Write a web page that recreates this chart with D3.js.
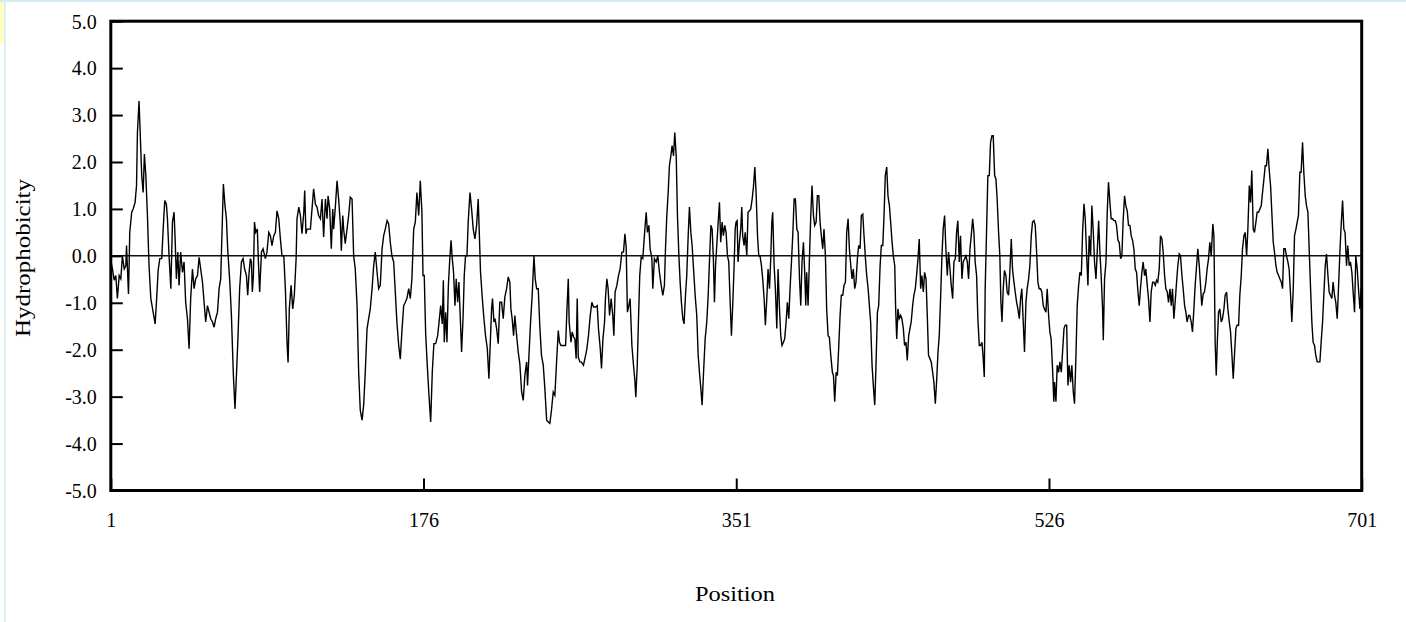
<!DOCTYPE html>
<html>
<head>
<meta charset="utf-8">
<script src="https://cdn.jsdelivr.net/npm/d3@7"></script>
<style>
  html, body { margin: 0; padding: 0; background: #fff; }
  svg { display: block; }
  text { font-family: "Liberation Serif", "Times New Roman", serif; fill: #000; }
</style>
</head>
<body>
<svg id="chart" width="1406" height="622"></svg>
<script>
// ---- data ----
const yTickValues = [-5, -4, -3, -2, -1, 0, 1, 2, 3, 4, 5];
const xTickValues = [1, 176, 351, 526, 701];
const xLabel = "Position";
const yLabel = "Hydrophobicity";

const positions = [
  1,1.9,2.9,3.8,4.7,5.7,6.6,7.5,8.5,9.4, 9.8,10.9,11.3,11.6,12.7,13.5,14.6,15.4,15.9,16.8,
  17.4,18.3,19.1,19.8,20.6,21.5,22.4,23.4,24.7,25.8, 26.5,27.5,28.4,29.5,30.3,31.2,32.1,32.7,33.6,34.6,
  35.5,36.4,37.0,37.7,38.5,39.2,40.1,41.1,42.0,42.9, 43.9,44.8,45.7,46.7,47.6,48.5,49.5,50.4,51.3,52.3,
  53.2,54.1,55.1,56.0,56.9,57.9,58.8,59.7,60.7,61.6, 62.5,63.5,64.0,64.9,65.7,66.4,67.6,68.5,69.6,70.5,
  71.3,72.2,73.1,74.1,75.0,75.9,76.9,77.6,78.4,79.1, 79.7,80.2,80.8,81.4,82.1,83.0,83.6,84.3,85.3,86.2,
  87.5,88.4,89.4,90.3,91.2,92.2,93.1,94.0,95.0,95.9, 96.8,97.8,98.7,99.6,100.2,100.9,101.9,102.8,103.7,104.7,
  105.2,106.2,107.1,108.0,109.0,109.5,110.2,110.8,111.7,112.7, 113.6,114.5,115.5,116.4,117.3,118.3,119.2,120.1,121.1,122.0,
  122.6,123.5,124.4,125.2,125.7,126.7,127.6,128.5,129.5,130.0, 130.8,131.3,132.2,133.2,134.1,135.0,136.0,136.9,137.8,138.8,
  139.7,140.6,141.6,142.5,143.4,144.4,145.3,146.2,147.2,148.1, 149.0,150.0,150.9,151.8,152.8,153.7,154.6,155.6,156.5,157.4,
  158.3,159.3,160.2,161.1,162.1,163.0,164.0,164.9,165.8,166.7, 167.7,168.6,169.5,170.5,171.4,172.3,173.3,174.2,175.1,175.7,
  176.4,177.2,178.1,179.0,180.0,180.9,181.8,182.8,183.9,184.6, 185.6,186.5,187.1,187.6,188.4,189.1,189.9,190.6,191.4,192.1,
  192.8,193.6,194.3,195.1,195.8,196.6,197.3,198.1,198.8,199.5, 200.3,201.0,202.0,202.9,203.8,204.8,205.7,206.6,207.2,207.9,
  208.9,209.8,210.7,211.7,212.6,213.3,214.1,214.6,215.4,216.0, 216.9,217.8,218.7,219.7,220.6,221.5,222.5,223.4,224.3,224.9,
  225.6,226.4,227.1,228.1,229.0,229.9,230.9,231.8,232.7,233.7, 234.2,235.0,235.9,236.8,237.8,238.5,239.3,240.2,241.1,242.0,
  243.0,243.9,244.9,245.8,246.7,247.6,248.6,249.5,250.4,251.4, 252.1,252.9,254.2,255.5,256.2,257.0,257.5,258.5,259.2,260.0,
  260.7,261.4,262.0,262.6,263.5,
  264.2,265.5,266.7,267.4,268.3,269.3,270.2,271.1,272.2,273.2, 273.9,274.9,275.6,276.4,277.3,277.8,278.6,279.3,280.1,281.0,
  281.9,282.5,283.2,284.2,285.1,286.0,287.0,287.9,288.7,289.4, 290.1,290.9,291.6,292.6,293.5,294.2,294.8,295.6,296.3,297.0,
  297.8,298.7,299.6,300.6,301.3,302.1,302.8,303.8,304.3,305.2, 306.2,307.1,308.0,309.0,309.9,310.8,311.4,312.1,312.9,313.6,
  314.4,315.1,315.9,316.6,317.4,318.1,318.9,319.6,320.3,321.1, 321.8,322.6,323.3,324.1,324.8,325.6,326.3,327.1,328.0,328.9,
  329.7,330.4,331.2,331.9,332.7,333.6,334.5,335.3,336.0,336.8, 337.5,338.2,338.8,339.4,340.1,340.9,341.6,342.3,343.1,343.8,
  344.6,345.3,346.1,346.8,347.6,348.3,349.1,349.8,350.4,350.9, 351.5,352.0,
  352.8,353.5,354.1,354.6,355.4,356.0,356.9,357.6,358.4,359.1, 359.9,360.6,361.4,362.1,362.9,363.6,364.3,365.1,365.8,366.6,
  367.3,368.1,368.8,369.6,370.3,370.9,371.4,372.2,372.9,373.7, 374.4,375.2,375.9,376.6,377.4,378.1,378.9,379.6,380.4,381.1,
  381.9,382.6,383.4,384.1,384.9,385.6,386.4,387.1,387.8,388.6, 389.3,389.9,390.4,391.2,391.9,392.7,393.4,394.2,394.9,395.7,
  396.4,397.2,397.9,398.6,399.4,400.1,400.9,401.6,402.4,403.1, 403.9,404.8,405.4,406.1,406.9,407.6,408.3,409.1,409.8,410.6,
  411.3,412.1,412.8,413.6,414.3,415.1,415.8,416.5,417.3,418.0, 418.8,419.5,420.3,421.0,421.8,422.5,423.3,424.0,424.8,425.5,
  426.2,427.0,427.7,428.5,429.2,430.0,430.7,431.5,432.2,433.0, 433.7,434.4,435.2,435.9,436.7,437.4,438.2,438.9,439.7,440.2,
  440.8,
  441.5,442.2,443.0,443.7,444.5,445.2,446.0,446.7,447.5,448.2, 448.9,449.7,450.4,451.2,451.9,452.7,453.4,454.2,454.9,455.7,
  456.4,457.2,457.9,458.6,459.4,460.1,460.9,461.6,462.4,463.1, 463.9,464.6,465.4,466.1,466.8,467.6,468.3,469.1,469.8,470.6,
  471.3,472.1,472.8,473.6,474.3,475.0,475.8,476.5,477.3,478.0, 478.8,479.5,480.3,481.0,481.8,482.5,483.3,484.0,484.7,485.5,
  486.2,487.0,487.7,488.5,489.2,489.8,490.3,491.1,491.8,492.6, 493.3,494.1,494.8,495.6,496.3,497.0,497.8,498.5,499.1,499.7,
  500.4,501.1,501.9,502.6,503.4,504.1,504.9,505.6,506.4,507.1, 507.9,508.6,509.4,510.1,510.8,511.6,512.3,513.1,513.8,514.6,
  515.3,516.1,516.8,517.6,518.3,519.0,519.8,520.5,521.3,522.0, 522.8,523.5,524.3,525.0,525.8,526.5,527.2,528.0,528.7,
  529.1,529.9,530.6,531.4,532.1,532.9,533.6,534.4,535.1,535.9, 536.6,537.3,538.1,538.8,539.6,540.3,541.1,541.8,542.6,543.3,
  544.1,544.8,545.6,546.3,547.0,547.8,548.5,549.3,550.0,550.8, 551.5,552.3,553.0,553.8,554.5,555.2,556.0,556.4,557.1,557.9,
  558.6,559.3,560.1,560.8,561.6,562.3,563.1,563.8,564.6,565.3, 566.1,566.8,567.5,568.3,569.0,569.8,570.5,571.3,572.0,572.8,
  573.5,574.3,575.0,575.8,576.5,577.2,578.0,578.7,579.5,580.2, 581.0,581.7,582.5,583.2,584.0,584.7,585.5,586.2,586.9,587.7,
  588.4,589.2,589.9,590.7,591.4,592.2,592.9,593.7,594.4,595.1, 595.9,596.6,597.4,598.1,598.9,599.6,600.4,601.1,601.9,602.6,
  603.3,604.1,604.8,605.6,606.3,607.1,607.8,608.6,609.3,610.1, 610.8,611.5,612.3,613.0,613.8,614.5,615.3,616.0,616.8,
  617.7,618.3,619.0,619.6,620.2,620.9,621.6,622.4,623.1,623.9, 624.6,625.4,626.1,626.9,627.6,628.4,629.1,629.9,630.6,631.3,
  632.1,632.8,633.6,634.3,635.1,635.8,636.6,637.3,638.1,638.8, 639.5,640.3,641.0,641.8,642.5,643.3,644.0,644.8,645.5,646.3,
  647.0,647.7,648.5,649.2,650.0,650.7,651.5,652.2,653.0,653.7, 654.5,655.2,656.0,656.7,657.4,658.2,658.9,659.7,660.4,661.2,
  661.9,662.7,663.4,664.2,664.9,665.6,666.4,667.1,667.9,668.6, 669.4,670.1,670.9,671.6,672.4,673.1,673.8,674.6,675.3,676.1,
  676.8,677.6,678.3,679.1,679.8,680.6,681.3,682.1,682.8,683.5, 684.3,685.0,685.8,686.5,687.3,688.0,688.8,689.5,690.3,691.0,
  691.7,692.5,693.2,694.0,694.7,695.5,696.2,697.0,697.7,698.5, 699.2,700.0,700.7,701
];

const hydrophobicity = [
  -0.1,-0.28,-0.52,-0.42,-0.91,-0.42,-0.49,0,-0.28,-0.21, 0.22,-0.81,-0.13,0.5,0.93,1.0,1.14,1.5,2.63,3.3,
  2.67,1.71,1.35,2.17,1.71,0.86,-0.21,-0.91,-1.2,-1.45, -1.02,-0.31,-0.06,-0.06,0.57,1.18,1.1,0.79,0,-0.7,
  0.72,0.93,0.36,-0.49,0.08,-0.63,0.08,-0.35,-0.13,-0.99, -1.34,-1.98,-0.91,-0.28,-0.7,-0.49,-0.42,-0.03,-0.28,-0.56,
  -0.99,-1.41,-1.06,-1.2,-1.34,-1.41,-1.52,-1.34,-1.2,-0.7, -0.49,0.86,1.53,1.07,0.79,0.15,-0.56,-1.27,-2.55,-3.26,
  -2.55,-1.7,-0.7,-0.13,-0.06,-0.28,-0.42,-0.84,-0.35,-0.06, -0.13,-0.77,-0.42,0.72,0.5,0.57,-0.13,-0.77,0.08,0.15,
  -0.06,0.08,0.5,0.43,0.22,0.43,0.5,0.96,0.79,0.36, 0,0,-0.7,-1.84,-2.27,-1.13,-0.63,-1.13,-0.84,-0.06,
  0.79,1.04,0.86,0.47,0.93,1.39,0.47,0.57,0.57,0.57, 1.0,1.43,1.1,1.04,0.86,0.79,1.21,0.4,1.21,0.79,
  1.28,1.0,0.15,1.0,0.57,1.07,1.6,1.21,0.65,0.11, 0.86,0.57,0.26,0.57,0.86,1.25,1.21,0,-0.28,-1.06,
  -2.48,-3.29,-3.5,-3.18,-2.48,-1.55,-1.34,-1.13,-0.7,-0.21, 0.08,-0.35,-0.7,-0.63,0.15,0.43,0.57,0.75,0.68,0.29,
  0,-0.13,-0.77,-1.41,-1.91,-2.2,-1.55,-1.06,-0.99,-0.91, -0.7,-0.91,-0.49,0.57,0.72,1.35,0.86,1.6,0.93,-0.42,
  -0.42,-1.66,-2.33,-2.94,-3.54,-2.48,-1.87,-1.87,-1.7,-1.45, -1.06,-1.45,-0.52,-1.84,-1.2,-1.84,-0.63,-0.13,0.33,-0.06,
  -0.35,-1.06,-0.49,-0.99,-0.56,-1.34,-2.05,-1.34,-0.42,0, 0,0.72,1.35,1.0,0.57,0.36,0.65,1.21,0.5,-0.35,
  -0.91,-1.34,-1.7,-1.98,-2.62,-1.91,-1.13,-0.91,-1.41,-1.34, -1.55,-1.87,-0.99,-0.99,-1.34,-0.88,-0.7,-0.45,-0.56,-1.13,
  -1.34,-1.7,-1.27,-1.7,-2.05,-2.3,-2.9,-3.08,-2.55,-2.26, -2.76,-2.12,-1.41,-0.84,0,-0.49,-0.7,-0.7,-1.52,-2.12,
  -2.33,-2.83,-3.5,-3.54,-3.57,-3.29,-2.9,-2.97,-2.3,-1.59, -1.84,-1.91,-1.91,-1.91,-1.2,-0.49,-1.41,-1.84,-1.62,-1.73,
  -1.77,-2.19,-0.91,-2.16,-2.26,
  -2.26,-2.33,-2.12,-1.98,-1.7,-1.27,-0.99,-1.09,-1.09,-1.06, -1.55,-1.98,-2.4,-1.77,-1.41,-0.91,-0.49,-0.7,-1.27,-0.91,
  -1.27,-1.7,-0.77,-0.63,-0.42,-0.28,0.08,0.08,0.47,0.18, -1.2,-1.06,-0.91,-1.91,-2.33,-2.62,-3.01,-2.33,-1.34,-0.42,
  -0.03,-0.06,0.43,0.93,0.5,0.65,0.15,-0.06,-0.7,-0.06, -0.13,0,-0.35,-0.63,-0.84,-0.63,0.15,0.82,1.35,1.92,
  2.13,2.35,2.13,2.63,2.13,0.86,0,-0.56,-0.99,-1.34, -1.45,-0.84,-0.42,0.43,1.04,0.5,0.22,-0.28,-0.84,-1.27,
  -2.12,-2.48,-2.83,-3.18,-2.48,-1.77,-1.41,-0.84,-0.13,0.65, 0.57,-0.06,-0.99,-0.21,0.22,0.72,1.14,0.29,0.72,0.43,
  0.65,0.5,0,-0.13,-0.99,-1.7,-0.99,-0.21,0.57,0.72, 0.75,-0.13,
  0.29,0.57,1.04,0.43,0.22,0.5,0,0.93,0.96,1.0, 1.21,1.46,1.89,1.35,0.43,0,0,-0.21,-0.49,-0.91,
  -1.48,-0.91,-0.28,-0.7,-0.06,0.72,0.93,-0.21,-0.7,-1.55, -0.28,-1.13,-1.7,-1.91,-1.84,-1.77,-1.41,-0.99,-1.34,-0.7,
  -0.13,0.43,1.21,1.21,0.57,0.5,-0.49,-1.06,-0.13,0.29, -0.35,-1.06,-0.35,-1.06,-0.13,0.86,1.5,0.86,0.65,0.72,
  1.28,1.28,0.72,0.43,0.15,0.57,0,-1.13,-1.7,-1.73, -2.12,-2.48,-2.55,-3.11,-2.48,-2.55,-1.98,-1.27,-0.84,-0.84,
  -0.63,-0.56,0.5,0.79,0.15,-0.21,-0.49,-0.28,-0.7,-0.56, -0.06,0.22,0.15,0.86,0.89,0.43,-0.06,-0.42,-0.7,-1.06,
  -1.41,-2.33,-2.76,-3.18,-2.33,-1.2,-1.06,-0.21,0.22,0.22, 0.86,1.71,1.89,1.28,1.07,0.72,0.29,0,-0.21,-1.13,
  -1.77,
  -1.13,-1.34,-1.27,-1.34,-1.55,-1.91,-1.84,-2.23,-1.7,-1.55, -1.41,-1.06,-0.84,-0.7,-0.42,-0.06,0.36,-0.7,-0.42,-0.77,
  -0.35,-0.49,-1.27,-2.12,-2.19,-2.26,-2.48,-2.69,-3.15,-2.69, -2.05,-1.7,-0.84,0,0.57,0.86,0.15,-0.42,0.08,-0.28,
  -0.63,-0.91,-0.13,-0.06,0.5,0.75,-0.13,0.43,-0.49,-0.13, -0.06,0,-0.13,-0.49,0.15,0.43,0.79,0.5,-0.13,-0.42,
  -1.34,-1.91,-1.91,-1.84,-2.19,-2.58,-0.7,0.57,1.71,1.71, 2.42,2.56,2.56,1.71,1.64,1.21,0.5,0,-0.99,-1.41,
  -0.7,-0.31,-0.42,-0.77,-0.84,-0.35,0.36,-0.28,-0.56,-0.77, -0.99,-1.13,-1.34,-0.91,-0.7,-1.41,-2.05,-0.99,-0.7,-0.49,
  -0.21,0.43,0.72,0.75,0.65,0.15,-0.56,-0.7,-0.7,-0.77, -1.06,-1.13,-1.2,-0.7,-1.27,-1.62,-1.77,-2.4,-3.11,
  -2.69,-3.11,-2.33,-2.48,-2.26,-2.48,-2.05,-1.55,-1.48,-1.48, -2.76,-2.33,-2.69,-2.33,-2.9,-3.15,-2.12,-1.06,-0.63,-0.35,
  -0.42,0.5,1.11,0.79,0.08,-0.63,0.43,0,1.07,0.5, -0.13,-0.49,0.08,0.75,0.08,-0.42,-1.13,-1.8,-0.49,-0.13,
  0.93,1.57,1.14,0.79,0.79,0.75,0.75,0.65,0.33,0.29, -0.06,0,0.75,1.28,1.07,0.96,0.65,0.65,0.43,0.33,
  0.15,-0.28,-0.35,-0.77,-1.06,-0.7,-0.35,-0.13,-0.42,-0.28, -0.63,-0.91,-1.41,-0.77,-0.56,-0.56,-0.63,-0.52,-0.56,-0.28,
  0.43,0.36,0.08,-0.42,-0.7,-0.77,-0.99,-0.7,-1.06,-0.7, -1.34,-0.99,-0.56,-0.21,0.04,0,-0.42,-0.7,-1.06,-1.2,
  -1.41,-1.27,-1.27,-1.41,-1.62,-1.13,-0.63,-0.21,0.15,-0.21, -0.63,-1.06,-0.81,-0.77,-0.56,-0.28,-0.06,0.29,0,
  0.68,0.43,-1.84,-2.55,-1.84,-1.2,-1.13,-1.41,-1.34,-1.13, -0.84,-0.77,-1.13,-1.41,-1.62,-2.12,-2.62,-2.05,-1.55,-1.48,
  -1.48,-0.84,-0.42,0.15,0.43,0.5,0,0.57,1.5,1.14, 1.82,0.57,0.5,0.72,0.93,0.93,1.0,1.07,1.35,1.64,
  1.92,1.92,2.28,1.85,1.5,0.93,0.29,0.08,-0.21,-0.35, -0.42,-0.49,-0.56,-0.7,0.15,0.15,0,-0.13,-0.28,-0.84,
  -1.41,-0.7,0.43,0.57,0.72,0.86,1.78,1.78,2.42,1.78, 1.28,1.07,0.93,0.15,-0.7,-1.41,-1.84,-1.91,-2.12,-2.26,
  -2.26,-2.26,-1.84,-1.41,-0.84,-0.21,0.04,-0.42,-0.77,-0.84, -0.91,-0.56,-0.84,-0.99,-1.34,-0.7,0.08,0.65,1.18,0.57,
  0.5,-0.21,0.22,-0.21,-0.13,-0.35,-0.77,-1.2,0,-0.28, -0.7,-1.13,-0.7,-1.2
];

// ---- drawing ----
(function () {
const svg = d3.select("#chart");
const W = 1406, H = 622;

// page decorations (window frame)
svg.append("rect").attr("x", 0).attr("y", 0).attr("width", W).attr("height", H).attr("fill", "#fff");
svg.append("rect").attr("x", 0).attr("y", 0).attr("width", 4).attr("height", 44).attr("fill", "#ffffc4");
svg.append("line").attr("x1", 0).attr("x2", W).attr("y1", 1).attr("y2", 1)
  .attr("stroke", "#d4ecf3").attr("stroke-width", 2);
svg.append("line").attr("x1", 4.8).attr("x2", 4.8).attr("y1", 0).attr("y2", H)
  .attr("stroke", "#d4ecf3").attr("stroke-width", 1.6);

const pLeft = 110.8, pRight = 1361.7, pTop = 21.2, pBottom = 490.5;
const x = d3.scaleLinear().domain([1, 701]).range([pLeft, pRight]);
const y = d3.scaleLinear().domain([-5, 5]).range([pBottom, pTop]);

// zero line
svg.append("line")
  .attr("x1", x(1)).attr("x2", x(701)).attr("y1", y(0)).attr("y2", y(0))
  .attr("stroke", "#111").attr("stroke-width", 1.5);

// data line
const n = Math.min(positions.length, hydrophobicity.length);
const data = d3.range(n).map(i => [positions[i], hydrophobicity[i]]);
svg.append("path")
  .datum(data)
  .attr("fill", "none")
  .attr("stroke", "#000")
  .attr("stroke-width", 1.4)
  .attr("stroke-linejoin", "miter")
  .attr("d", d3.line().x(d => x(d[0])).y(d => y(d[1])));

// axes
const yAxis = d3.axisLeft(y).tickValues(yTickValues).tickFormat(d => d.toFixed(1))
  .tickSizeInner(-12).tickSizeOuter(0).tickPadding(14);
const gy = svg.append("g").attr("transform", `translate(${pLeft},0)`).call(yAxis);
gy.select(".domain").remove();
gy.selectAll(".tick line").attr("stroke", "#000").attr("stroke-width", 2);
gy.selectAll(".tick text").attr("font-size", 20).attr("font-family", "Liberation Serif").attr("fill", "#000")
  .attr("dy", "0.34em");

const xAxis = d3.axisBottom(x).tickValues(xTickValues).tickFormat(d3.format("d"))
  .tickSizeInner(-12).tickSizeOuter(0);
const gx = svg.append("g").attr("transform", `translate(0,${pBottom})`).call(xAxis);
gx.select(".domain").remove();
gx.selectAll(".tick line").attr("stroke", "#000").attr("stroke-width", 2);
gx.selectAll(".tick text").attr("font-size", 20).attr("font-family", "Liberation Serif").attr("fill", "#000")
  .attr("y", 36).attr("dy", 0);

// frame
svg.append("rect")
  .attr("x", pLeft).attr("y", pTop).attr("width", pRight - pLeft).attr("height", pBottom - pTop)
  .attr("fill", "none").attr("stroke", "#000").attr("stroke-width", 3);

// axis titles
svg.append("text")
  .attr("x", 735).attr("y", 601)
  .attr("text-anchor", "middle").attr("font-size", 21)
  .attr("textLength", 80).attr("lengthAdjust", "spacingAndGlyphs")
  .text(xLabel);
svg.append("text")
  .attr("transform", "translate(30,258) rotate(-90)")
  .attr("text-anchor", "middle").attr("font-size", 21)
  .attr("textLength", 158).attr("lengthAdjust", "spacingAndGlyphs")
  .text(yLabel);
})();
</script>
</body>
</html>
